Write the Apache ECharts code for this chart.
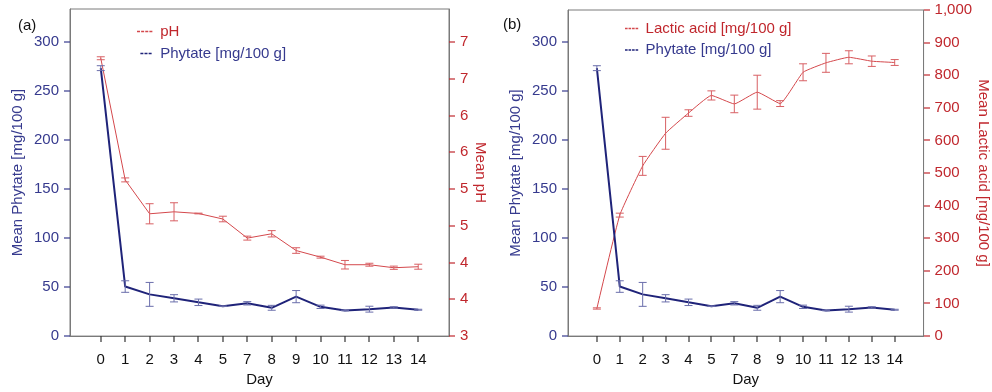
<!DOCTYPE html>
<html>
<head>
<meta charset="utf-8">
<script src="https://cdn.jsdelivr.net/npm/echarts@6.0.0/dist/echarts.min.js"></script>
<style>
  html, body { margin: 0; padding: 0; background: #fff; }
  #chart { width: 992px; height: 392px; }
</style>
</head>
<body>
<div id="chart"></div>
<script>
// sampling days (category labels, evenly spaced)
const days = ["0", "1", "2", "3", "4", "5", "7", "8", "9", "10", "11", "12", "13", "14"];

// phytate, same in both panels [mg/100 g]
const phytateMean = [273.6, 50.6, 42.6, 38.6, 34.5, 30.5, 33.5, 28.9, 40.3, 29.9, 26.2, 27.5, 29.2, 26.9];
const phytateErr = [2.5, 5.9, 12.2, 3.7, 3.3, 0.3, 1.7, 2.5, 6.2, 1.7, 0.3, 3.0, 0.7, 0.5];

// panel (a): pH
const phMean = [6.78, 5.125, 4.664, 4.691, 4.668, 4.593, 4.333, 4.392, 4.164, 4.074, 3.971, 3.971, 3.93, 3.944];
const phErr = [0.02, 0.027, 0.137, 0.123, 0.005, 0.038, 0.027, 0.043, 0.038, 0.013, 0.058, 0.02, 0.022, 0.034];

// panel (b): lactic acid [mg/100 g]
const lacticMean = [84.7, 371, 522, 622, 684, 738, 712, 748, 713, 809, 838, 855, 843, 839];
const lacticErr = [2, 6, 29, 49, 10, 14, 27, 52, 9, 26, 29, 20, 16, 9];

// tick labels
const phytateTicks = [0, 50, 100, 150, 200, 250, 300];
const phTickValues = [3, 3.5, 4, 4.5, 5, 5.5, 6, 6.5, 7];
const phTickLabels = ["3", "4", "4", "5", "5", "6", "6", "7", "7"];
const lacticTicks = [0, 100, 200, 300, 400, 500, 600, 700, 800, 900, 1000];
const lacticTickLabels = ["0", "100", "200", "300", "400", "500", "600", "700", "800", "900", "1,000"];

const FONT = "'Liberation Sans', Arial, Helvetica, sans-serif";
const BLUE_TEXT = "#363a8e";
const BLUE_LINE = "#1f2379";
const BLUE_ERR = "#6a6eab";
const RED_TEXT = "#c0272d";
const RED_LINE = "#d4484c";
const RED_ERR = "#d86064";
const FRAME = "#7a7a7a";
const TICK_LEN = 6;

const chart = echarts.init(document.getElementById("chart"), null, { renderer: "canvas" });

const idx = days.map((d, i) => i);
const pairs = (mean) => mean.map((v, i) => [i, v]);
const ranges = (mean, err) => mean.map((v, i) => [i, v - err[i], v + err[i]]);

const xMin = -1.26;
const xMax = days.length - 1 + 1.26;

function errorBar(color) {
  return function (params, api) {
    const x = api.value(0);
    const lo = api.coord([x, api.value(1)]);
    const hi = api.coord([x, api.value(2)]);
    const w = 4;
    const style = { stroke: color, lineWidth: 1, fill: null };
    return {
      type: "group",
      children: [
        { type: "line", shape: { x1: lo[0], y1: lo[1], x2: hi[0], y2: hi[1] }, style: style },
        { type: "line", shape: { x1: lo[0] - w, y1: lo[1], x2: lo[0] + w, y2: lo[1] }, style: style },
        { type: "line", shape: { x1: hi[0] - w, y1: hi[1], x2: hi[0] + w, y2: hi[1] }, style: style },
      ],
    };
  };
}

function dayAxis(gridIndex, nameGap) {
  return {
    type: "value",
    gridIndex: gridIndex,
    position: "bottom",
    min: xMin,
    max: xMax,
    name: "Day",
    nameLocation: "middle",
    nameGap: nameGap,
    nameTextStyle: { color: "#111", fontSize: 15, fontFamily: FONT },
    axisLine: { show: true, onZero: false, lineStyle: { color: FRAME, width: 1 } },
    splitLine: { show: false },
    axisTick: { show: false },
    axisLabel: {
      customValues: idx,
      margin: 16,
      color: "#111",
      fontSize: 15,
      fontFamily: FONT,
      formatter: (v) => days[Math.round(v)],
    },
  };
}

function valueAxis(opts) {
  return {
    type: "value",
    gridIndex: opts.grid,
    position: opts.position,
    min: opts.min,
    max: opts.max,
    name: opts.name,
    nameLocation: "middle",
    nameGap: opts.nameGap,
    nameRotate: opts.position === "right" ? -90 : 90,
    nameTextStyle: { color: opts.color, fontSize: 15, fontFamily: FONT },
    axisLine: { show: true, onZero: false, lineStyle: { color: FRAME, width: 1 } },
    splitLine: { show: false },
    axisTick: { show: false },
    axisLabel: {
      customValues: opts.ticks,
      margin: 11,
      color: opts.color,
      fontSize: 15,
      fontFamily: FONT,
      formatter: (v) => opts.labels[opts.ticks.findIndex((t) => Math.abs(t - v) < 1e-6)],
    },
  };
}

const yDefs = [
  { grid: 0, position: "left", min: 0, max: 334, name: "Mean Phytate [mg/100 g]", nameGap: 45, color: BLUE_TEXT, ticks: phytateTicks, labels: phytateTicks.map(String) },
  { grid: 0, position: "right", min: 3, max: 7.45, name: "Mean pH", nameGap: 23, color: RED_TEXT, ticks: phTickValues, labels: phTickLabels },
  { grid: 1, position: "left", min: 0, max: 333, name: "Mean Phytate [mg/100 g]", nameGap: 45, color: BLUE_TEXT, ticks: phytateTicks, labels: phytateTicks.map(String) },
  { grid: 1, position: "right", min: 0, max: 1000, name: "Mean Lactic acid [mg/100 g]", nameGap: 45, color: RED_TEXT, ticks: lacticTicks, labels: lacticTickLabels },
];

const option = {
  animation: false,
  textStyle: { fontFamily: FONT },
  title: [
    { text: "(a)", left: 13, top: 13, textStyle: { fontSize: 15, fontWeight: "normal", color: "#111", fontFamily: FONT } },
    { text: "(b)", left: 498, top: 12, textStyle: { fontSize: 15, fontWeight: "normal", color: "#111", fontFamily: FONT } },
  ],
  legend: [
    {
      orient: "vertical",
      left: 132,
      top: 19,
      itemWidth: 21,
      itemHeight: 1.5,
      itemGap: 7,
      textStyle: { fontSize: 15, fontFamily: FONT },
      data: [
        { name: "pH", icon: "path://M0,0h4v2h-4z M5.5,0h4v2h-4z M11,0h4v2h-4z M16.5,0h4v2h-4z", itemStyle: { color: RED_LINE }, textStyle: { color: RED_TEXT } },
        { name: "Phytate [mg/100 g]", icon: "path://M0,0 M4.5,0h4v2h-4z M10,0h4v2h-4z M15.5,0h4v2h-4z M20.5,2", itemStyle: { color: BLUE_LINE }, textStyle: { color: BLUE_TEXT } },
      ],
    },
    {
      orient: "vertical",
      left: 620,
      top: 16,
      itemWidth: 18,
      itemHeight: 1.5,
      itemGap: 6.5,
      textStyle: { fontSize: 15, fontFamily: FONT },
      data: [
        { name: "Lactic acid [mg/100 g]", icon: "path://M0,0h3.5v2h-3.5z M4.7,0h3.5v2h-3.5z M9.4,0h3.5v2h-3.5z M14.1,0h3.5v2h-3.5z", itemStyle: { color: RED_LINE }, textStyle: { color: RED_TEXT } },
        { name: "Phytate [mg/100 g] ", icon: "path://M0,0h3.5v2h-3.5z M4.7,0h3.5v2h-3.5z M9.4,0h3.5v2h-3.5z M14.1,0h3.5v2h-3.5z", itemStyle: { color: BLUE_LINE }, textStyle: { color: BLUE_TEXT } },
      ],
    },
  ],
  grid: [
    { left: 70, top: 9, width: 379, height: 332, show: true, borderColor: FRAME, borderWidth: 1, backgroundColor: "transparent" },
    { left: 568, top: 10, width: 365, height: 334, show: true, borderColor: FRAME, borderWidth: 1, backgroundColor: "transparent" },
  ],
  xAxis: [dayAxis(0, 35), dayAxis(1, 33)],
  yAxis: yDefs.map(valueAxis),
  series: [
    // panel (a)
    {
      name: "pH", type: "line", xAxisIndex: 0, yAxisIndex: 1, data: pairs(phMean),
      showSymbol: false, lineStyle: { color: RED_LINE, width: 1 }, itemStyle: { color: RED_LINE }, z: 2,
    },
    {
      type: "custom", xAxisIndex: 0, yAxisIndex: 1, data: ranges(phMean, phErr),
      renderItem: errorBar(RED_ERR), encode: { x: 0, y: [1, 2] }, silent: true, z: 3,
    },
    {
      name: "Phytate [mg/100 g]", type: "line", xAxisIndex: 0, yAxisIndex: 0, data: pairs(phytateMean),
      showSymbol: false, lineStyle: { color: BLUE_LINE, width: 2 }, itemStyle: { color: BLUE_LINE }, z: 4,
    },
    {
      type: "custom", xAxisIndex: 0, yAxisIndex: 0, data: ranges(phytateMean, phytateErr),
      renderItem: errorBar(BLUE_ERR), encode: { x: 0, y: [1, 2] }, silent: true, z: 5,
    },
    // panel (b)
    {
      name: "Lactic acid [mg/100 g]", type: "line", xAxisIndex: 1, yAxisIndex: 3, data: pairs(lacticMean),
      showSymbol: false, smooth: 0.12, lineStyle: { color: RED_LINE, width: 1 }, itemStyle: { color: RED_LINE }, z: 2,
    },
    {
      type: "custom", xAxisIndex: 1, yAxisIndex: 3, data: ranges(lacticMean, lacticErr),
      renderItem: errorBar(RED_ERR), encode: { x: 0, y: [1, 2] }, silent: true, z: 3,
    },
    {
      name: "Phytate [mg/100 g] ", type: "line", xAxisIndex: 1, yAxisIndex: 2, data: pairs(phytateMean),
      showSymbol: false, lineStyle: { color: BLUE_LINE, width: 2 }, itemStyle: { color: BLUE_LINE }, z: 4,
    },
    {
      type: "custom", xAxisIndex: 1, yAxisIndex: 2, data: ranges(phytateMean, phytateErr),
      renderItem: errorBar(BLUE_ERR), encode: { x: 0, y: [1, 2] }, silent: true, z: 5,
    },
  ],
};

chart.setOption(option);

// outward tick marks on the frame, positioned through the axis scales (filled rects)
const ticks = [];
function addYTicks(xi, yi, values, side, color) {
  values.forEach((v) => {
    const p = chart.convertToPixel({ xAxisIndex: xi, yAxisIndex: yi }, [side === "left" ? xMin : xMax, v]);
    if (!p) return;
    const y = Math.round(p[1]);
    const x = Math.round(p[0]);
    ticks.push({
      type: "rect", silent: true, z: 100,
      shape: { x: side === "left" ? x - TICK_LEN : x, y: y - 0.6, width: TICK_LEN, height: 1.2 },
      style: { fill: color },
    });
  });
}
function addXTicks(xi, yi, yMin) {
  idx.forEach((i) => {
    const p = chart.convertToPixel({ xAxisIndex: xi, yAxisIndex: yi }, [i, yMin]);
    if (!p) return;
    const x = Math.round(p[0]);
    const y = Math.round(p[1]);
    ticks.push({
      type: "rect", silent: true, z: 100,
      shape: { x: x - 0.6, y: y, width: 1.2, height: TICK_LEN },
      style: { fill: "#333" },
    });
  });
}
addYTicks(0, 0, phytateTicks, "left", BLUE_TEXT);
addYTicks(0, 1, phTickValues, "right", RED_TEXT);
addYTicks(1, 2, phytateTicks, "left", BLUE_TEXT);
addYTicks(1, 3, lacticTicks, "right", RED_TEXT);
addXTicks(0, 0, 0);
addXTicks(1, 2, 0);
chart.setOption({ graphic: ticks });
</script>
</body>
</html>
